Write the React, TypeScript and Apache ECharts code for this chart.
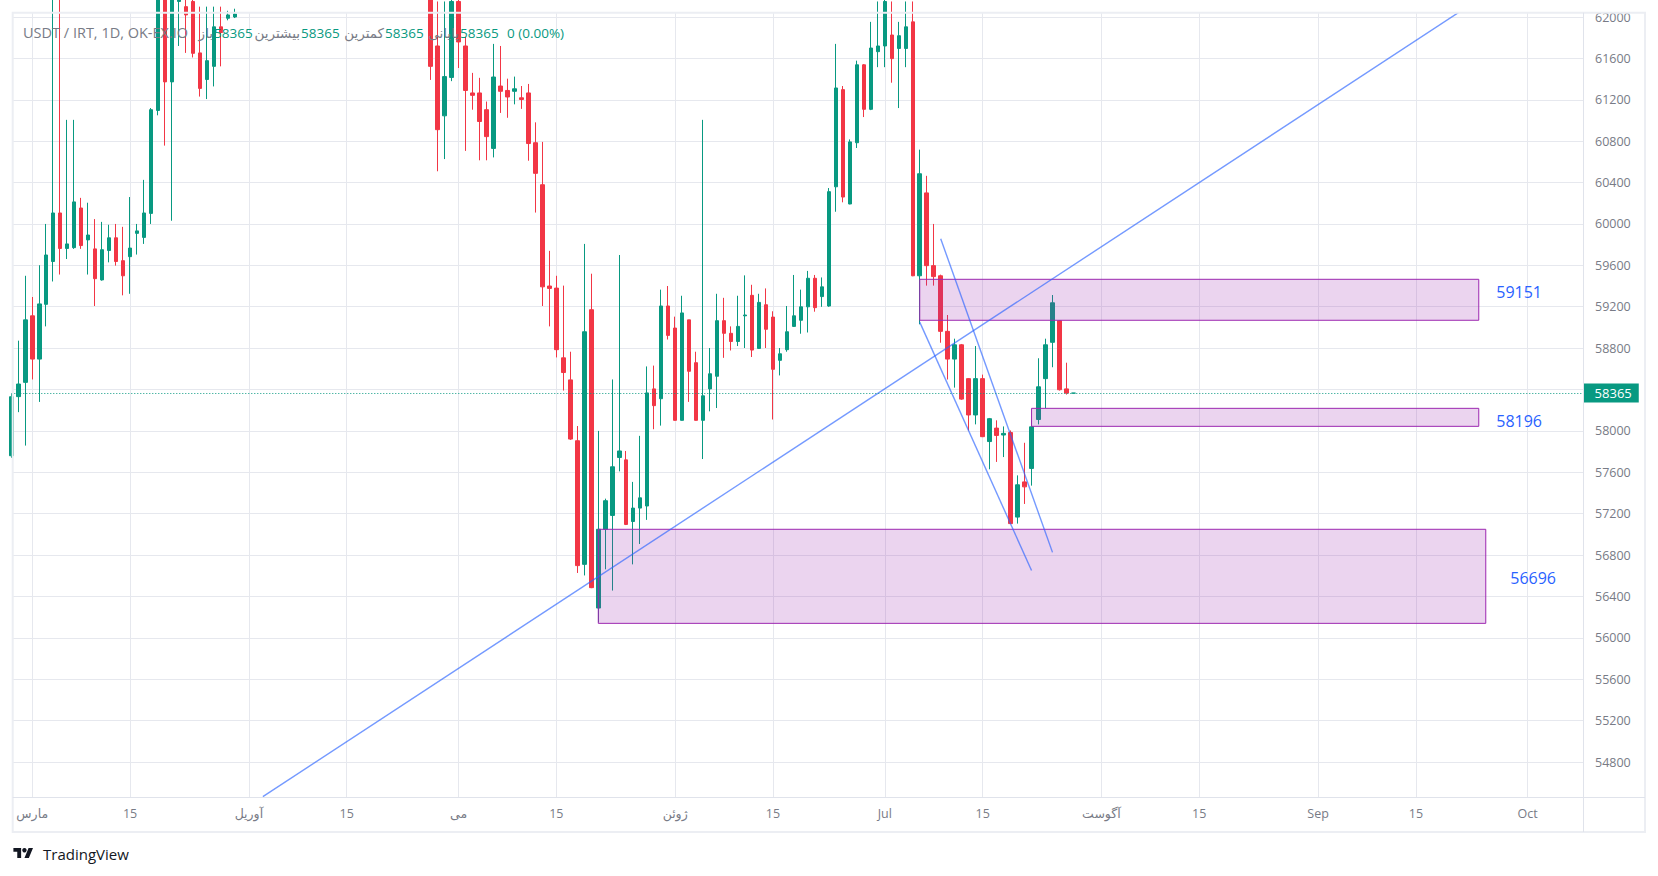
import React, { useEffect, useRef } from 'react';
import * as echarts from 'echarts';

const FONT = "'Open Sans', 'DejaVu Sans', sans-serif";

// ---------- categories (one per day) ----------
const firstDay = '2023-02-26';
const axisDayCount = 226; // Feb 26 .. Oct 9
const monthLabels = ['Jan', 'Feb', 'مارس', 'آوریل', 'می', 'ژوئن', 'Jul', 'آگوست', 'Sep', 'Oct', 'Nov', 'Dec'];
const midMonthLabel = '15';

// ---------- daily candles from firstDay: [open, high, low, close] ----------
const ohlc: number[][] = [
  [57760, 58360, 57740, 58330], [58331, 58872, 58181, 58453], [58469, 59499, 57858, 59073],
  [59112, 59294, 58497, 58694], [58694, 59601, 58280, 59227], [59223, 60000, 59010, 59700],
  [59637, 62400, 59444, 60106], [60106, 62300, 59511, 59763], [59763, 61006, 59661, 59807],
  [59771, 61006, 59759, 60213], [60154, 60252, 59759, 59791], [59846, 60205, 59511, 59893],
  [59759, 60047, 59207, 59471], [59459, 60020, 59452, 59751], [59743, 59992, 59629, 59866],
  [59866, 60000, 59597, 59637], [59645, 59972, 59310, 59499], [59684, 60260, 59325, 59767],
  [59909, 60000, 59704, 59933], [59870, 60426, 59807, 60106], [60102, 61120, 60000, 61104],
  [61097, 62500, 61050, 62300], [62400, 62600, 60757, 61373], [61373, 62500, 60031, 62300],
  [62150, 62350, 61720, 62300], [62100, 62300, 61653, 62020], [62150, 62300, 61609, 61649],
  [61653, 62100, 61231, 61310], [61396, 62100, 61207, 61578], [61523, 62100, 61329, 61905],
  [61905, 62100, 61523, 61850], [61988, 62060, 61968, 62020], [62000, 62080, 61990, 62030],
  // early/mid April: above the visible range
  [62080, 62520, 62080, 62450], [62450, 62900, 62300, 62780], [62780, 63100, 62600, 62700],
  [62700, 63300, 62650, 63150], [63150, 63500, 62900, 63050], [63050, 63400, 62850, 63280],
  [63280, 63700, 63100, 63550], [63550, 63800, 63200, 63350], [63350, 63600, 63000, 63150],
  [63150, 63450, 62900, 63300], [63300, 63900, 63200, 63750], [63750, 64100, 63500, 63600],
  [63600, 63850, 63250, 63400], [63400, 63700, 63150, 63550], [63550, 63900, 63300, 63450],
  [63450, 63650, 63000, 63100], [63100, 63400, 62800, 63250], [63250, 63500, 62950, 63050],
  [63050, 63300, 62700, 62850], [62850, 63150, 62600, 62950], [62950, 63250, 62700, 62800],
  [62800, 63000, 62450, 62600], [62600, 62900, 62350, 62750], [62750, 63000, 62500, 62650],
  [62650, 62900, 62300, 62500], [62500, 62800, 62250, 62700], [62700, 62950, 62400, 62550],
  // late April / May
  [62550, 62700, 61392, 61523], [61720, 62150, 60509, 60911], [61045, 62150, 60627, 61424],
  [61416, 62300, 61380, 62150], [62150, 62300, 61507, 61759], [61720, 61811, 60706, 61290],
  [61266, 61460, 61104, 61243], [61266, 61412, 60615, 60990], [61104, 61183, 60615, 60844],
  [60730, 61740, 60643, 61420], [61333, 61720, 61073, 61282], [61290, 61404, 61026, 61227],
  [61282, 61424, 61156, 61306], [61219, 61333, 61112, 61203], [61266, 61353, 60611, 60777],
  [60785, 60982, 60110, 60489], [60379, 60793, 59207, 59392], [59400, 59740, 59010, 59377],
  [59380, 59499, 58710, 58785], [58706, 59404, 58390, 58564], [58493, 58765, 57913, 57921],
  [57905, 58047, 56627, 56698], [56710, 59807, 56603, 58958], [59171, 59519, 56480, 56485],
  [56288, 58000, 56150, 57049], [57049, 57345, 56662, 57325], [57183, 58497, 56457, 57653],
  [57743, 59700, 57609, 57806], [57720, 57806, 57090, 57096], [57124, 57507, 56710, 57254],
  [57254, 57952, 56907, 57353], [57274, 58623, 57140, 58367], [58406, 58631, 58016, 58244],
  [58311, 59365, 58051, 59207], [59207, 59400, 58883, 58923],
  // June
  [58994, 59104, 58100, 58102], [58102, 59306, 58100, 59140], [59073, 59073, 58280, 58576],
  [58659, 58765, 58100, 58102], [58102, 61006, 57728, 58339], [58406, 58801, 58189, 58552],
  [58528, 59325, 58221, 59065], [59065, 59286, 58706, 58943], [58943, 59010, 58777, 58864],
  [58864, 59306, 58820, 59010], [59112, 59503, 58801, 59120], [59310, 59412, 58714, 58781],
  [58797, 59325, 58795, 59242], [59219, 59377, 58801, 58982], [59100, 59156, 58110, 58595],
  [58682, 58801, 58536, 58745], [58785, 59207, 58765, 58958], [59010, 59507, 59005, 59112],
  [59069, 59365, 58939, 59199], [59199, 59546, 58951, 59475], [59475, 59507, 59152, 59191],
  [59298, 59483, 59199, 59392], [59207, 60347, 59199, 60312], [60359, 61740, 60118, 61314],
  [61298, 61333, 60209, 60260], [60193, 60817, 60190, 60793], [60785, 61578, 60734, 61538],
  [61538, 61545, 61033, 61108], [61108, 61953, 61100, 61700], [61665, 62150, 61515, 61720],
  // July
  [61720, 62300, 61515, 62150], [61826, 62150, 61365, 61598], [61696, 61953, 61120, 61819],
  [61696, 62150, 61515, 61905], [61953, 62150, 59495, 59499], [59499, 60718, 59030, 60485],
  [60300, 60465, 59404, 59597], [59597, 60000, 59404, 59491], [59499, 59510, 58852, 58962],
  [58962, 59120, 58497, 58694], [58694, 58891, 58418, 58832], [58832, 58840, 58300, 58307],
  [58505, 58510, 58004, 58154], [58154, 58820, 58063, 58505], [58505, 58544, 57940, 57944],
  [57897, 58125, 57629, 58118], [58027, 58102, 57700, 57956], [57960, 58043, 57747, 57976],
  [57984, 58004, 57100, 57104], [57167, 57570, 57104, 57479], [57507, 57885, 57294, 57459],
  [57637, 58102, 57471, 58039], [58110, 58702, 58063, 58426], [58505, 58891, 58221, 58832],
  [58856, 59313, 58615, 59238], [59065, 59070, 58390, 58398], [58406, 58659, 58351, 58365],
  [58365, 58365, 58365, 58365],
];

// ---------- price scale ----------
const yLabelMin = 54800;
const yLabelMax = 62000;
const yLabelStep = 400;
const yViewMin = 54461.75;
const yViewMax = 62038.66;

const currentPrice = 58365;
const headerSymbol = 'USDT / IRT, 1D, OK-EX.IO';
const headerFields = ['باز', 'بیشترین', 'کمترین', 'پایانی'];
const headerValues = ['58365', '58365', '58365', '58365'];
const headerChange = '0 (0.00%)';

// ---------- drawn zones ----------
const zoneStarts = ['2023-07-06', '2023-07-22', '2023-05-21'];
const zoneEnds = ['2023-09-24', '2023-09-24', '2023-09-25'];
const zoneTops = [59465, 58218, 57049];
const zoneBottoms = [59069, 58044, 56140];
const zoneLabels = ['59151', '58196', '56696'];

// ---------- trend lines: [date, price] pairs ----------
const trendLineStarts: [string, number][] = [['2023-04-03', 54465], ['2023-07-09', 59857], ['2023-07-06', 59051]];
const trendLineEnds: [string, number][] = [['2023-09-29', 62393], ['2023-07-25', 56826], ['2023-07-22', 56651]];

function addDays(iso: string, n: number) {
  const d = new Date(iso + 'T00:00:00Z');
  d.setUTCDate(d.getUTCDate() + n);
  return d.toISOString().slice(0, 10);
}
const days = Array.from({ length: axisDayCount }, (_, i) => addDays(firstDay, i));

const UP = '#089981';
const DOWN = '#f23645';
const GRID = '#e6e8ee';
const TEXT = '#787b86';

const isTickDay = (_: number, v: string) => v.endsWith('-01') || v.endsWith('-15');
const formatDay = (v: string) => (v.endsWith('-01') ? monthLabels[Number(v.slice(5, 7)) - 1] : midMonthLabel);
// the price scale hides a tick label that the current-price tag covers
const formatPrice = (v: number) => (Math.abs(v - currentPrice) < 150 ? '' : String(v));

const zoneLabelOffsets = [[0, -8], [0, 4], [6, 2]];

export default function App() {
  const ref = useRef<HTMLDivElement>(null);
  useEffect(() => {
    if (!ref.current) return;
    echarts.graphic.registerShape(
      'tvLogo',
      echarts.graphic.extendPath('M14 22H7V11H0V4h14v18zM28 22h-8l7.5-18h8L28 22z', {})
    );
    const chart = echarts.init(ref.current, undefined, { renderer: 'svg' });

    const plot = { left: 11.3, top: 13, width: 1572.3, height: 784 };
    const k = plot.height / (yViewMax - yViewMin);
    const labelGridTop = plot.top + (yViewMax - yLabelMax) * k;
    const labelGridHeight = (yLabelMax - yLabelMin) * k;

    const candleData = ohlc.map(([o, h, l, c]) => [o, c, l, h]);

    const zoneData = zoneStarts.map((s, i) => [
      {
        xAxis: s,
        yAxis: zoneTops[i],
        label: {
          show: true,
          position: 'right',
          distance: i === 2 ? 18 : 17,
          offset: zoneLabelOffsets[i],
          formatter: zoneLabels[i],
          color: '#2962ff',
          fontSize: 16,
          fontFamily: FONT,
        },
      },
      { xAxis: zoneEnds[i], yAxis: zoneBottoms[i] },
    ]);

    const trendSeries = trendLineStarts.map((s, i) => ({
      type: 'line',
      xAxisIndex: 0,
      yAxisIndex: 0,
      data: [s, trendLineEnds[i]],
      symbol: 'none',
      clip: true,
      silent: true,
      z: 4,
      lineStyle: { color: 'rgba(41, 98, 255, 0.65)', width: 1.4 },
    }));

    // header texts
    const hy = 32.5;
    const hs = 13.5;
    const headerGraphics: any[] = [
      { type: 'text', x: 23, y: hy, z: 100, style: { text: headerSymbol, fill: TEXT, font: `14.5px ${FONT}`, verticalAlign: 'middle' } },
    ];
    const fieldRight = [213, 300, 384, 459];
    headerFields.forEach((f, i) => {
      headerGraphics.push({ type: 'text', x: fieldRight[i], y: hy, z: 100, style: { text: f, fill: TEXT, font: `${hs}px ${FONT}`, align: 'right', verticalAlign: 'middle' } });
      headerGraphics.push({ type: 'text', x: fieldRight[i] + 1, y: hy, z: 100, style: { text: headerValues[i], fill: UP, font: `${hs}px ${FONT}`, verticalAlign: 'middle' } });
    });
    headerGraphics.push({ type: 'text', x: 507, y: hy, z: 100, style: { text: headerChange, fill: UP, font: `${hs}px ${FONT}`, verticalAlign: 'middle' } });

    const s = 0.552;
    const option: any = {
      animation: false,
      backgroundColor: '#ffffff',
      textStyle: { fontFamily: FONT },
      grid: [
        { left: plot.left, top: plot.top, width: plot.width, height: plot.height },
        { left: 12.7, top: labelGridTop, width: 1583 - 12.7, height: labelGridHeight },
      ],
      xAxis: [
        {
          type: 'category',
          gridIndex: 0,
          data: days,
          boundaryGap: false,
          axisLine: { show: false },
          axisTick: { show: false },
          axisLabel: {
            interval: isTickDay,
            formatter: formatDay,
            color: TEXT,
            fontSize: 12.5,
            fontFamily: FONT,
            margin: 10,
          },
          splitLine: { show: true, interval: isTickDay, lineStyle: { color: GRID, width: 1 } },
        },
        { type: 'value', gridIndex: 1, min: 0, max: 1, show: false },
      ],
      yAxis: [
        { type: 'value', gridIndex: 0, min: yViewMin, max: yViewMax, show: false, splitLine: { show: false } },
        {
          type: 'value',
          gridIndex: 1,
          min: yLabelMin,
          max: yLabelMax,
          interval: yLabelStep,
          position: 'right',
          axisLine: { show: false },
          axisTick: { show: false },
          axisLabel: { color: TEXT, fontSize: 12.5, fontFamily: FONT, margin: 12, formatter: formatPrice },
          splitLine: { show: true, lineStyle: { color: GRID, width: 1 } },
        },
      ],
      series: [
        {
          type: 'candlestick',
          xAxisIndex: 0,
          yAxisIndex: 0,
          data: candleData,
          barWidth: 4,
          clip: true,
          itemStyle: {
            color: UP,
            color0: DOWN,
            borderColor: UP,
            borderColor0: DOWN,
            borderColorDoji: UP,
            borderWidth: 1,
          },
          markArea: {
            silent: true,
            z: 3,
            itemStyle: { color: 'rgba(156, 39, 176, 0.2)', borderColor: '#9c27b0', borderWidth: 1 },
            data: zoneData,
          },
        },
        ...trendSeries,
        {
          type: 'line',
          xAxisIndex: 0,
          yAxisIndex: 0,
          data: [],
          clip: false,
          silent: true,
          markLine: {
            silent: true,
            symbol: 'none',
            z: 5,
            lineStyle: { color: UP, width: 1, type: [1, 2] },
            label: {
              show: true,
              position: 'end',
              distance: 0,
              formatter: String(currentPrice),
              color: '#ffffff',
              backgroundColor: UP,
              padding: [3, 7, 3, 11],
              fontSize: 13,
              fontFamily: FONT,
            },
            data: [{ yAxis: currentPrice }],
          },
        },
      ],
      graphic: [
        // chart frame
        { type: 'rect', z: 50, silent: true, shape: { x: 12.7, y: 12.7, width: 1632.3, height: 819.3 }, style: { fill: 'none', stroke: '#eceef3', lineWidth: 2 } },
        { type: 'line', z: 50, silent: true, shape: { x1: 12.7, y1: 797.5, x2: 1645, y2: 797.5 }, style: { stroke: '#e0e3eb', lineWidth: 1 } },
        { type: 'line', z: 50, silent: true, shape: { x1: 1583.5, y1: 12.7, x2: 1583.5, y2: 832 }, style: { stroke: '#e0e3eb', lineWidth: 1 } },
        ...headerGraphics,
        // TradingView logo
        { type: 'tvLogo', x: 13.4, y: 845.8, scaleX: s, scaleY: s, z: 100, style: { fill: '#131722' } },
        { type: 'circle', z: 100, shape: { cx: 13.4 + 20 * s, cy: 845.8 + 8 * s, r: 4 * s }, style: { fill: '#131722' } },
        { type: 'text', x: 43, y: 854, z: 100, style: { text: 'TradingView', fill: '#131722', font: `15px ${FONT}`, verticalAlign: 'middle' } },
      ],
    };
    chart.setOption(option);
    return () => chart.dispose();
  }, []);
  return <div ref={ref} style={{ position: 'fixed', left: 0, top: 0, width: 1658, height: 876, background: '#fff' }} />;
}
